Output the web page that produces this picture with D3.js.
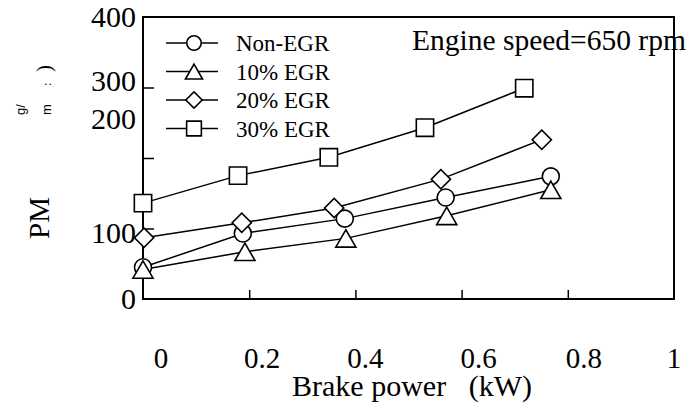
<!DOCTYPE html>
<html>
<head>
<meta charset="utf-8">
<script src="https://cdn.jsdelivr.net/npm/d3@7"></script>
<style>
  body { margin: 0; background: #fff; }
</style>
</head>
<body>
<div id="chart"></div>
<script>
// series names (legend order)
const categories = ["Non-EGR", "10% EGR", "20% EGR", "30% EGR"];

// brake power (kW) and PM for each series
const powerNonEGR = [0, 0.188, 0.380, 0.570, 0.768];
const pmNonEGR    = [45, 93, 114, 144, 174];
const power10     = [0, 0.192, 0.382, 0.572, 0.768];
const pm10        = [42, 67, 86, 118, 155];
const power20     = [0.002, 0.186, 0.360, 0.561, 0.751];
const pm20        = [87, 108, 129, 170, 226];
const power30     = [0, 0.179, 0.350, 0.531, 0.718];
const pm30        = [136, 175, 201, 243, 299];

// tick labels
const xTickLabels = [0, 0.2, 0.4, 0.6, 0.8, 1];
const yTickLabels = [0, 100, 200, 300, 400];

const FONT = "'Liberation Serif', 'Times New Roman', Times, 'DejaVu Serif', serif";

let width = 697, height = 408;
let margin = { top: 17, right: 23, bottom: 109, left: 143 };
let w = width - margin.left - margin.right,
    h = height - margin.top - margin.bottom;

let svg = d3.select("#chart").append("svg")
    .attr("width", width)
    .attr("height", height)
    .attr("font-family", FONT)
    .style("font-family", FONT);

let g = svg.append("g")
    .attr("transform", "translate(" + margin.left + "," + margin.top + ")");

let x = d3.scaleLinear().domain([0, 1]).range([0, w]);
let y = d3.scaleLinear().domain([0, 400]).range([h, 0]);

// inward ticks, no labels (labels are placed by hand below, like the original)
g.append("g")
    .attr("transform", "translate(0," + h + ")")
    .call(d3.axisBottom(x).tickValues([0.2, 0.4, 0.6, 0.8]).tickSize(-9).tickFormat(""))
    .call(a => a.select(".domain").remove())
    .selectAll("line").attr("stroke", "#000").attr("stroke-width", 1.5);

g.append("g")
    .call(d3.axisLeft(y).tickValues([100, 200, 300]).tickSize(-11).tickFormat(""))
    .call(a => a.select(".domain").remove())
    .selectAll("line").attr("stroke", "#000").attr("stroke-width", 1.5);

// frame
g.append("rect")
    .attr("width", w).attr("height", h)
    .attr("fill", "none").attr("stroke", "#000").attr("stroke-width", 2);

// tick labels - the source figure has them shifted off their ticks
let xLabelNudge = [18, 13, 10, 17, 16, 0];
g.selectAll(".xlab")
    .data(xTickLabels)
    .enter().append("text")
    .attr("class", "xlab")
    .attr("x", (d, i) => x(d) + xLabelNudge[i])
    .attr("y", h + 69)
    .attr("text-anchor", "middle")
    .attr("font-size", "29px")
    .text(d => d);

let yLabelNudge = [-1, 3.5, -40, -7.5, -1];
g.selectAll(".ylab")
    .data(yTickLabels)
    .enter().append("text")
    .attr("class", "ylab")
    .attr("x", -7)
    .attr("y", (d, i) => y(d) + yLabelNudge[i] + 10.5)
    .attr("text-anchor", "end")
    .attr("font-size", "30px")
    .text(d => d);

// axis titles
svg.append("text")
    .attr("x", 412).attr("y", 396)
    .attr("text-anchor", "middle")
    .attr("font-size", "30px")
    .text("Brake power\u00a0\u00a0\u00a0(kW)");

svg.append("text")
    .attr("transform", "translate(49,218) rotate(-90)")
    .attr("text-anchor", "middle")
    .attr("font-size", "29px")
    .text("PM");

// garbled unit label of the original
svg.append("text")
    .attr("transform", "translate(25,115) rotate(-90)")
    .attr("font-size", "13px")
    .style("font-family", "'Liberation Sans', Arial, sans-serif")
    .text("g/");
svg.append("text")
    .attr("transform", "translate(51,115) rotate(-90)")
    .attr("font-size", "13px")
    .style("font-family", "'Liberation Sans', Arial, sans-serif")
    .text("m");
svg.append("text")
    .attr("transform", "translate(51,86) rotate(-90)")
    .attr("font-size", "13px")
    .text(":");
svg.append("text")
    .attr("transform", "translate(51,72) rotate(-90)")
    .attr("font-size", "21px")
    .text(")");

svg.append("text")
    .attr("x", 412).attr("y", 50)
    .attr("font-size", "29.5px")
    .text("Engine speed=650 rpm");

// series
let series = [
    { name: categories[0], xs: powerNonEGR, ys: pmNonEGR, shape: "circle" },
    { name: categories[1], xs: power10, ys: pm10, shape: "triangle" },
    { name: categories[2], xs: power20, ys: pm20, shape: "diamond" },
    { name: categories[3], xs: power30, ys: pm30, shape: "square" }
];

function marker(sel, shape, k) {
    k = k || 1;
    let p;
    if (shape === "circle") p = d3.symbol(d3.symbolCircle, 227 * k * k);
    else if (shape === "triangle") p = d3.symbol(d3.symbolTriangle, 175 * k * k);
    else p = d3.symbol(d3.symbolSquare, (shape === "diamond" ? 185 : 300) * k * k);
    sel.append("path")
        .attr("d", p())
        .attr("transform", (shape === "diamond" ? "rotate(45)" : "")
            + (shape === "triangle" ? "translate(0," + (3 * k) + ")" : ""))
        .attr("fill", "#fff")
        .attr("stroke", "#000")
        .attr("stroke-width", 1.6);
}

let line = d3.line().x(d => x(d[0])).y(d => y(d[1]));

series.forEach(s => {
    let pts = s.xs.map((v, i) => [v, s.ys[i]]);
    g.append("path")
        .datum(pts)
        .attr("d", line)
        .attr("fill", "none")
        .attr("stroke", "#000")
        .attr("stroke-width", 1.5);
});

series.forEach(s => {
    let pts = s.xs.map((v, i) => [v, s.ys[i]]);
    g.selectAll(null)
        .data(pts)
        .enter().append("g")
        .attr("transform", d => "translate(" + x(d[0]) + "," + y(d[1]) + ")")
        .each(function () { marker(d3.select(this), s.shape); });
});

// legend
let legend = svg.append("g");
series.forEach((s, i) => {
    let ly = 43 + i * 28.5;
    let row = legend.append("g").attr("transform", "translate(0," + ly + ")");
    row.append("line")
        .attr("x1", 166).attr("x2", 218)
        .attr("stroke", "#000").attr("stroke-width", 1.5);
    marker(row.append("g").attr("transform", "translate(194,0)"), s.shape, 0.85);
    row.append("text")
        .attr("x", 236).attr("y", 8)
        .attr("font-size", "23px")
        .text(s.name);
});
</script>
</body>
</html>
